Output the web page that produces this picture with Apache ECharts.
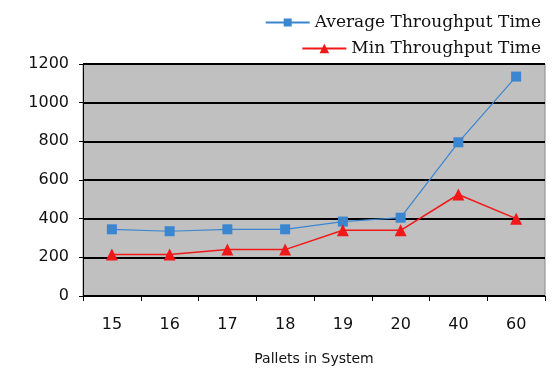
<!DOCTYPE html>
<html>
<head>
<meta charset="utf-8">
<script src="https://cdn.jsdelivr.net/npm/echarts@6/dist/echarts.min.js"></script>
<style>
  html, body { margin: 0; padding: 0; background: #fff; }
  #chart { width: 552px; height: 371px; }
</style>
</head>
<body>
<div id="chart"></div>
<script>
// data
const pallets = ["15", "16", "17", "18", "19", "20", "40", "60"];
const avgThroughput = [345, 335, 345, 345, 385, 405, 795, 1135];
const minThroughput = [215, 215, 240, 240, 340, 340, 525, 400];
const yTicks = [0, 200, 400, 600, 800, 1000, 1200];

const chart = echarts.init(document.getElementById("chart"));

const legendText = {
  fontFamily: "DejaVu Serif",
  fontSize: 17,
  color: "#111"
};

chart.setOption({
  animation: false,
  legend: [
    {
      data: ["Average Throughput Time"],
      right: 6,
      top: 9,
      itemWidth: 44,
      itemHeight: 10,
      itemGap: 8,
      textStyle: legendText
    },
    {
      data: ["Min Throughput Time"],
      right: 6,
      top: 35,
      itemWidth: 44,
      itemHeight: 12,
      textStyle: legendText
    }
  ],
  grid: {
    left: 83,
    right: 7,
    top: 64,
    bottom: 74,
    show: true,
    backgroundColor: "#c0c0c0",
    borderColor: "#8a8a8a",
    borderWidth: 1
  },
  xAxis: {
    type: "category",
    data: pallets,
    boundaryGap: true,
    name: "Pallets in System",
    nameLocation: "middle",
    nameGap: 56,
    nameTextStyle: {
      fontFamily: "DejaVu Sans",
      fontSize: 14,
      color: "#111"
    },
    axisLine: { lineStyle: { color: "#000", width: 1 } },
    axisTick: { show: true, length: 5, lineStyle: { color: "#000" } },
    axisLabel: {
      margin: 21,
      fontFamily: "DejaVu Sans",
      fontSize: 16,
      color: "#111"
    }
  },
  yAxis: {
    type: "value",
    min: yTicks[0],
    max: yTicks[yTicks.length - 1],
    interval: 200,
    axisLine: { show: true, lineStyle: { color: "#000", width: 1 } },
    axisTick: { show: true, length: 4, lineStyle: { color: "#000" } },
    splitLine: { lineStyle: { color: "#000", width: 2 } },
    axisLabel: {
      margin: 14,
      fontFamily: "DejaVu Sans",
      fontSize: 16,
      color: "#111",
      formatter: function (v) { return String(v); }
    }
  },
  series: [
    {
      name: "Average Throughput Time",
      type: "line",
      data: avgThroughput,
      symbol: "rect",
      symbolSize: 10,
      itemStyle: { color: "#3a86d0" },
      lineStyle: { color: "#3a86d0", width: 1.2 },
      z: 3
    },
    {
      name: "Min Throughput Time",
      type: "line",
      data: minThroughput,
      symbol: "triangle",
      symbolSize: 12,
      itemStyle: { color: "#f01818" },
      lineStyle: { color: "#f01818", width: 1.5 },
      z: 4
    }
  ]
});
</script>
</body>
</html>
